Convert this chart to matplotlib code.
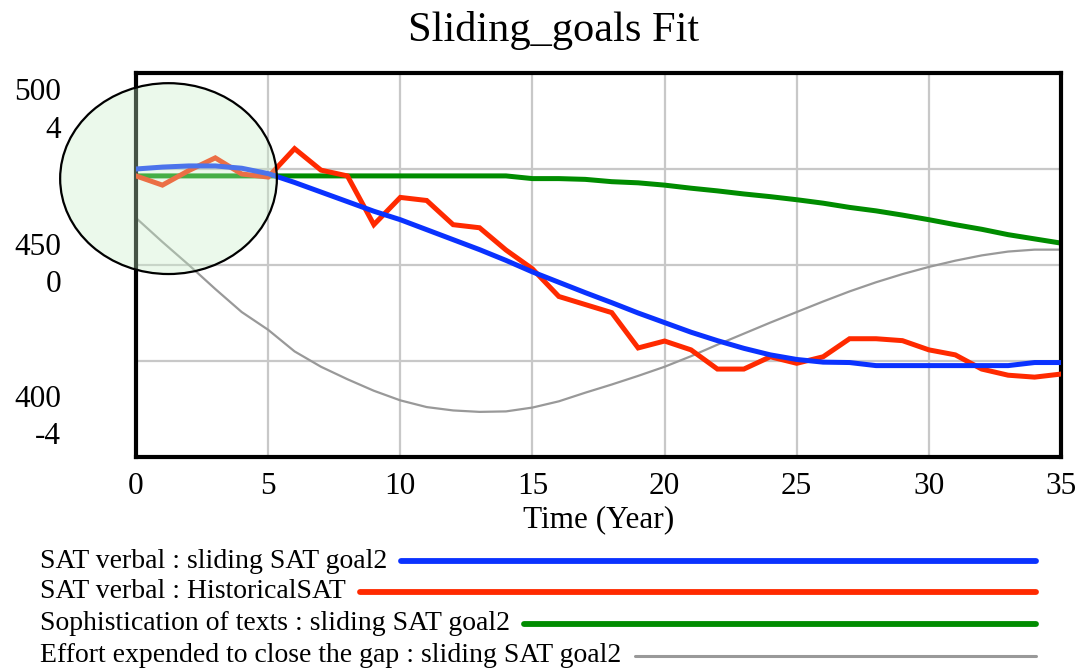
import matplotlib
matplotlib.use("Agg")
import matplotlib.pyplot as plt
from matplotlib.patches import Ellipse
from matplotlib.lines import Line2D

plt.rcParams['font.family'] = ['Liberation Serif', 'DejaVu Serif']

# ---------------- data ----------------
years = list(range(0, 36))

sat_sliding = [475.0, 475.5, 475.8, 475.8, 475.2, 473.8, 471.5, 469.0, 466.5, 464.0,
               461.8, 459.2, 456.6, 454.0, 451.2, 448.2, 445.5, 442.8, 440.2, 437.5,
               435.0, 432.5, 430.3, 428.3, 426.6, 425.4, 424.7, 424.6, 423.8, 423.8,
               423.8, 423.8, 423.8, 423.8, 424.6, 424.6]

sat_historical = [473.2, 470.8, 474.6, 477.9, 473.7, 472.9, 480.3, 474.7, 473.2, 460.5,
                  467.6, 466.8, 460.5, 459.7, 453.9, 449.0, 441.8, 439.7, 437.6, 428.4,
                  430.2, 427.9, 422.9, 422.9, 426.1, 424.4, 426.1, 430.8, 430.8, 430.3,
                  427.9, 426.6, 422.9, 421.3, 420.8, 421.6]

sophistication = [473.2, 473.2, 473.2, 473.2, 473.2, 473.2, 473.2, 473.2, 473.2, 473.2,
                  473.2, 473.2, 473.2, 473.2, 473.2, 472.5, 472.5, 472.3, 471.7, 471.4,
                  470.8, 470.0, 469.3, 468.5, 467.8, 467.0, 466.1, 465.0, 464.1, 463.0,
                  461.8, 460.5, 459.3, 457.9, 456.8, 455.7]

effort = [0.98, 0.48, 0.0, -0.5, -0.98, -1.35, -1.8, -2.12, -2.38, -2.62,
          -2.82, -2.96, -3.03, -3.06, -3.05, -2.97, -2.84, -2.66, -2.49, -2.31,
          -2.12, -1.9, -1.66, -1.43, -1.2, -0.98, -0.76, -0.55, -0.36, -0.19,
          -0.04, 0.09, 0.2, 0.28, 0.32, 0.32]

x_ticks = [0, 5, 10, 15, 20, 25, 30, 35]
sat_ticks = ["500", "450", "400"]
effort_ticks = ["4", "0", "-4"]

series_names = ["SAT verbal : sliding SAT goal2",
                "SAT verbal : HistoricalSAT",
                "Sophistication of texts : sliding SAT goal2",
                "Effort expended to close the gap : sliding SAT goal2"]
series_colors = ["#0a32ff", "#ff2a00", "#008c00", "#999999"]

# ---------------- figure ----------------
W, H = 1076, 668
fig = plt.figure(figsize=(W / 100, H / 100), dpi=100)

L, R, T, B = 136, 1061, 73, 457
rect = [L / W, 1 - B / H, (R - L) / W, (B - T) / H]

ax2 = fig.add_axes(rect)          # bottom layer: grid + effort
ax = fig.add_axes(rect, sharex=ax2)  # top layer: SAT series
ax.set_zorder(ax2.get_zorder() + 1)
ax.patch.set_visible(False)

ax2.set_xlim(0, 35)
ax2.set_ylim(-4, 4)
ax.set_ylim(400, 500)

grid_c = "#c8c8c8"
for xv in x_ticks[1:-1]:
    ax2.axvline(xv, color=grid_c, lw=1.6, zorder=0)
for yv in [-2, 0, 2]:
    ax2.axhline(yv, color=grid_c, lw=1.6, zorder=0)

ax2.plot(years, effort, color=series_colors[3], lw=1.6, zorder=2)
for s in ax2.spines.values():
    s.set_visible(False)
ax2.set_yticks([])
ax2.tick_params(axis='x', length=0, labelbottom=False)

ax.plot(years, sophistication, color=series_colors[2], lw=3.6, zorder=2)
ax.plot(years, sat_historical, color=series_colors[1], lw=3.6, zorder=3, solid_joinstyle='miter')
ax.plot(years, sat_sliding, color=series_colors[0], lw=3.6, zorder=4)

for s in ax.spines.values():
    s.set_linewidth(3.0)
    s.set_color("black")
ax.set_yticks([])
ax.set_xticks(x_ticks)
ax.set_xticklabels([str(v) for v in x_ticks], fontsize=22.5)
ax.tick_params(axis='x', length=0, pad=11)
ax.set_xlabel("Time (Year)", fontsize=22.5, labelpad=3)

# stacked y labels (two scales)
ylab_px = [(93, sat_ticks[0]), (130, effort_ticks[0]),
           (247, sat_ticks[1]), (285, effort_ticks[1]),
           (400, sat_ticks[2]), (437, effort_ticks[2])]
for ypx, txt in ylab_px:
    fig.text(61 / W, 1 - ypx / H, txt, ha='right', va='center', fontsize=22.5)

fig.text(554 / W, 1 - 30 / H, "Sliding_goals Fit", ha='center', va='center', fontsize=30.5)

# highlight ellipse
ell = Ellipse((1.23, 472.5), width=8.2, height=49.7, facecolor="#c8f0c8", alpha=0.35,
              edgecolor="none", clip_on=False, zorder=10)
ax.add_patch(ell)
ell2 = Ellipse((1.23, 472.5), width=8.2, height=49.7, facecolor="none",
               edgecolor="black", lw=1.6, clip_on=False, zorder=11)
ax.add_patch(ell2)

# legend rows
fig.canvas.draw()
renderer = fig.canvas.get_renderer()
row_y = [561, 592, 624, 656]
line_w = [4.2, 4.2, 4.2, 2.2]
for name, col, ypx, lw in zip(series_names, series_colors, row_y, line_w):
    t = fig.text(40 / W, 1 - ypx / H, name, ha='left', va='center', fontsize=20)
    bb = t.get_window_extent(renderer)
    x0 = (bb.x1 + 14) / W
    fig.add_artist(Line2D([x0, 1036 / W], [1 - ypx / H, 1 - ypx / H], color=col, lw=lw,
                          solid_capstyle='round', transform=fig.transFigure))

fig.savefig("out.png", dpi=100)
